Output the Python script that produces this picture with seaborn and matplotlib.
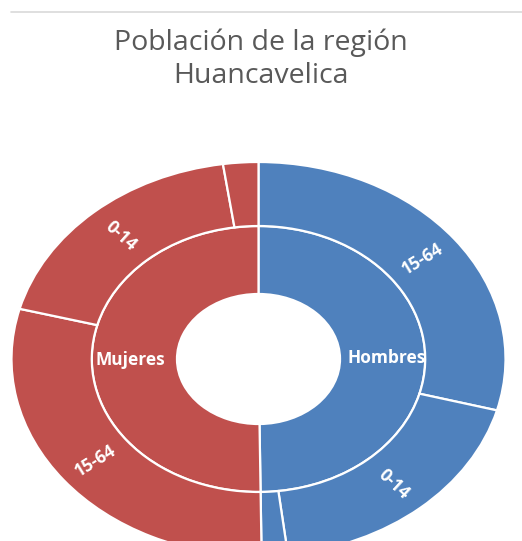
import numpy as np
import matplotlib.pyplot as plt
import seaborn as sns
from matplotlib.lines import Line2D

# datos (porcentaje de la población total)
sexos = ["Hombres", "Mujeres"]
grupos_hombres = ["15-64", "0-14", "65+"]
valores_hombres = [29.2, 18.9, 1.7]
grupos_mujeres = ["15-64", "0-14", "65+"]
valores_mujeres = [29.3, 18.6, 2.3]
etiquetas_visibles = ["15-64", "0-14"]

sns.set_theme(style="white")
plt.rcParams["font.family"] = ["Open Sans", "DejaVu Sans"]

paleta = sns.color_palette(["#4F81BD", "#C0504D"])
color_hombres, color_mujeres = paleta[0], paleta[1]

fig = plt.figure(figsize=(5.22, 5.41), dpi=100)
ax = fig.add_axes([11.5 / 522, -15 / 541, 494 / 522, 394 / 541])

r_hueco = 0.33
r_medio = 0.675
r_ext = 1.0

totales = [sum(valores_hombres), sum(valores_mujeres)]
externos = valores_hombres + valores_mujeres
colores_ext = [color_hombres] * len(valores_hombres) + [color_mujeres] * len(valores_mujeres)
nombres_ext = grupos_hombres + grupos_mujeres

borde = dict(edgecolor="white", linewidth=1.6)

# anillo interior
w_int, _ = ax.pie(totales, radius=r_medio, startangle=90, counterclock=False,
                  colors=paleta, wedgeprops=dict(width=r_medio - r_hueco, **borde))
# anillo exterior
w_ext, _ = ax.pie(externos, radius=r_ext, startangle=90, counterclock=False,
                  colors=colores_ext, wedgeprops=dict(width=r_ext - r_medio, **borde))

ax.set_aspect("auto")
ax.set_xlim(-1, 1)
ax.set_ylim(-1, 1)
ax.axis("off")

# etiquetas del anillo interior (horizontales)
r_lab = (r_hueco + r_medio) / 2 + 0.015
for w, nombre in zip(w_int, sexos):
    ang = np.deg2rad((w.theta1 + w.theta2) / 2)
    ax.text(r_lab * np.cos(ang), r_lab * np.sin(ang), nombre, ha="center", va="center",
            color="white", fontsize=12.5, fontweight="bold")

# etiquetas del anillo exterior (radiales)
r_lab = (r_medio + r_ext) / 2
for w, nombre in zip(w_ext, nombres_ext):
    if nombre not in etiquetas_visibles:
        continue
    ang_deg = (w.theta1 + w.theta2) / 2
    ang = np.deg2rad(ang_deg)
    rot = ang_deg % 360
    if 90 < rot < 270:
        rot -= 180
    elif rot >= 270:
        rot -= 360
    ax.text(r_lab * np.cos(ang), r_lab * np.sin(ang), nombre, ha="center", va="center",
            rotation=rot, transform_rotates_text=True, rotation_mode="anchor",
            color="white", fontsize=12.5, fontweight="bold")

# título
fig.text(261 / 522, 1 - 50 / 541, "Población de la región", ha="center", va="baseline",
         fontsize=20.5, color="#595959")
fig.text(261 / 522, 1 - 83 / 541, "Huancavelica", ha="center", va="baseline",
         fontsize=20.5, color="#595959")

# línea gris superior
fig.add_artist(Line2D([11 / 522, 1], [1 - 12 / 541, 1 - 12 / 541],
                      transform=fig.transFigure, color="#d9d9d9", linewidth=1.2))

fig.savefig("out.png", dpi=100)
